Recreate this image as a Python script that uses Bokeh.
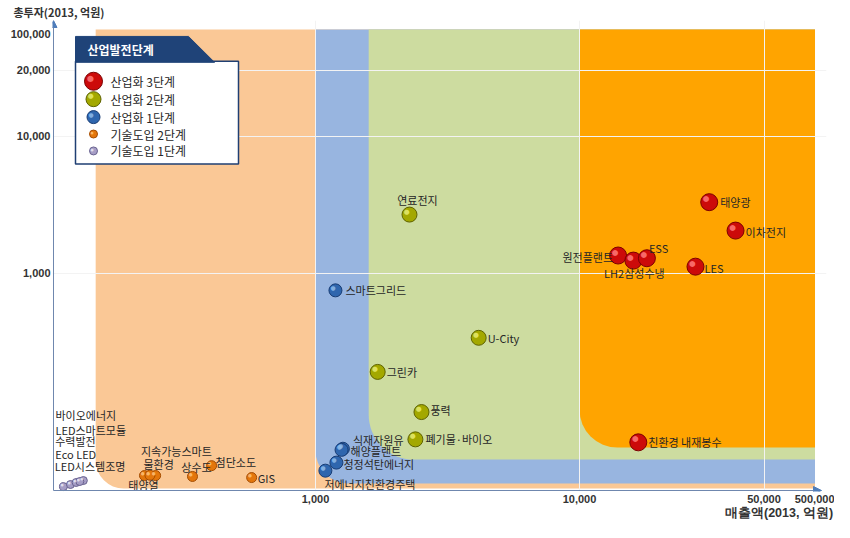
from bokeh.plotting import figure
from bokeh.models import (BoxAnnotation, FixedTicker, NumeralTickFormatter, Title, LogAxis,
                          Arrow, NormalHead, ColumnDataSource)
from bokeh.core.properties import value
from bokeh.embed import file_html
from bokeh.resources import INLINE

# ---------------- data : 매출액 (x), 총투자 (y), 2013, 억원 ----------------
s3_names = ["태양광", "이차전지", "원전플랜트", "LH2삼성수냉", "ESS", "LES", "친환경 내재봉수"]
s3_sales = [31000, 39000, 14000, 16000, 18000, 27500, 16700]
s3_invest = [3300, 2050, 1350, 1240, 1290, 1120, 59]

s2_names = ["연료전지", "U-City", "그린카", "풍력", "폐기물·바이오"]
s2_sales = [2270, 4150, 1720, 2520, 2390]
s2_invest = [2680, 340, 192, 98, 62]

s1_names = ["스마트그리드", "식재자원유", "해양플랜트", "청정석탄에너지", "저에너지친환경주택"]
s1_sales = [1190, 1270, 1255, 1200, 1090]
s1_invest = [753, 53, 52, 42, 36.7]

t2_names = ["태양열", "물환경", "지속가능스마트", "상수도", "첨단소도", "GIS"]
t2_sales = [225, 248, 236, 342, 404, 573]
t2_invest = [33.8, 33.8, 34.0, 33.3, 39.9, 32.7]

t1_names = ["바이오에너지", "LED스마트모듈", "수력발전", "Eco LED", "LED시스템조명"]
t1_sales = [111, 118, 124, 132, 128]
t1_invest = [28.1, 29.1, 30.1, 31.1, 30.6]

legend_labels = ["산업화 3단계", "산업화 2단계", "산업화 1단계", "기술도입 2단계", "기술도입 1단계"]

# stage thresholds of the background zones (sales, investment floor)
zone_left = [147, 1000, 1590, 10000]
zone_bottom = [27.2, 29.6, 44.2, 54.0]
zone_right = 78000
zone_top = 59600

x_ticks = [1000, 10000, 50000, 80000]
y_ticks = [1000, 10000, 30000, 55000]
x_title_tick = 57000

# ---------------- layout helpers (picture pixel -> axis value) ----------------
def xv(px):
    return 10 ** (3 + (px - 317) / 264.0)

def yv(py):
    return 10 ** (3 - (py - 273) / 138.0)

FL, FR, FT, FB = 54, 828, 19, 492   # frame edges in the picture (px)

KF = "Noto Sans CJK KR"
KFONT = value(KF)

p = figure(width=834, height=522, x_axis_type="log", y_axis_type="log",
           x_range=(xv(FL), xv(FR)), y_range=(yv(FB), yv(FT)),
           output_backend="svg", toolbar_location=None,
           min_border_left=52, min_border_right=8, min_border_top=20,
           min_border_bottom=29)
p.background_fill_color = "white"
p.border_fill_color = "white"
p.outline_line_color = None

# ---------------- background zones ----------------
zone_colors = ["#FAC896", "#98B5E0", "#CDDCA0", "#FFA400"]
zone_radius = [28, 33, 45, 38]
for zl, zb, zc, zr in zip(zone_left, zone_bottom, zone_colors, zone_radius):
    p.add_layout(BoxAnnotation(left=zl, right=zone_right, bottom=zb, top=zone_top,
                               fill_color=zc, fill_alpha=1.0, line_color=None,
                               border_radius=dict(top_left=0, top_right=0,
                                                  bottom_right=0, bottom_left=zr),
                               level="image"))

# ---------------- axes ----------------
p.xaxis.ticker = FixedTicker(ticks=x_ticks)
p.yaxis.ticker = FixedTicker(ticks=y_ticks)
p.xaxis.formatter = NumeralTickFormatter(format="0,0")
p.yaxis.formatter = NumeralTickFormatter(format="0,0")
p.xaxis.major_label_overrides = {80000: "500,000"}
p.yaxis.major_label_overrides = {30000: "20,000", 55000: "100,000"}
for ax in (p.xaxis, p.yaxis):
    ax.axis_line_color = None
    ax.major_tick_line_color = None
    ax.minor_tick_line_color = None
    ax.major_tick_out = 0
    ax.major_tick_in = 0
    ax.minor_tick_out = 0
    ax.minor_tick_in = 0
    ax.major_label_text_font = "Liberation Sans"
    ax.major_label_text_font_style = "bold"
    ax.major_label_text_font_size = "11px"
    ax.major_label_text_color = "#333333"
p.yaxis.major_label_standoff = 2
p.xaxis.major_label_standoff = 3

# x-axis title carried by a second bottom axis (right-hand placement as in the original)
xt = LogAxis(ticker=FixedTicker(ticks=[x_title_tick]),
             major_label_overrides={x_title_tick: "매출액(2013, 억원)"},
             axis_line_color=None, major_tick_line_color=None, minor_tick_line_color=None,
             major_tick_out=0, major_tick_in=0, minor_tick_out=0, minor_tick_in=0,
             major_label_standoff=0, major_label_text_font="Liberation Sans",
             major_label_text_font_size="12.5px", major_label_text_font_style="bold",
             major_label_text_color="#333333")
p.add_layout(xt, "below")

p.add_layout(Title(text="총투자(2013, 억원)", align="left", offset=-39, standoff=1,
                   text_font=KF, text_font_size="11px", text_font_style="bold",
                   text_color="#333333"), "above")

p.xgrid.ticker = FixedTicker(ticks=[1000, 10000, 50000])
p.ygrid.ticker = FixedTicker(ticks=[1000, 10000, 30000])
p.grid.grid_line_color = "#F3F3F3"
p.grid.grid_line_width = 1

axis_col = "#6F87AE"
p.add_layout(Arrow(x_start=xv(55), y_start=yv(491), x_end=xv(55), y_end=yv(19),
                   line_color=axis_col, line_width=1,
                   end=NormalHead(size=7, fill_color="#4F7DBA", line_color="#4F7DBA")))
p.add_layout(Arrow(x_start=xv(55), y_start=yv(491), x_end=xv(823), y_end=yv(491),
                   line_color=axis_col, line_width=1,
                   end=NormalHead(size=8, fill_color="#4F7DBA", line_color="#4F7DBA")))

# ---------------- points ----------------
def spheres(names, xs, ys, size, base, dark, light, dx, dy, align):
    src = ColumnDataSource(dict(x=xs, y=ys, name=names, dx=dx, dy=dy, align=align))
    p.scatter("x", "y", source=src, size=size, fill_color=base, line_color=dark, line_width=1)
    p.text("x", "y", text=value("●"), source=src, text_color=light, text_alpha=0.85,
           text_font=value("DejaVu Sans"), text_font_size=f"{size * 0.45:.1f}px",
           x_offset=-size * 0.18, y_offset=-size * 0.2,
           text_align="center", text_baseline="middle")
    p.text("x", "y", text="name", source=src, x_offset="dx", y_offset="dy",
           text_align="align", text_baseline="middle",
           text_font=KFONT, text_font_size="11px", text_color="#262626")

spheres(t1_names, t1_sales, t1_invest, 8, "#A69EC6", "#6A6390", "#ECEAF6",
        [-8, -15, -21, -28, -25], [-72, -55, -41, -27, -16], ["left"] * 5)
spheres(t2_names, t2_sales, t2_invest, 10, "#E3760C", "#A44C00", "#FFC27A",
        [-1, 3, -9, 4, 4, 6], [9, -12, -24, -9, -4, 0],
        ["center", "center", "left", "center", "left", "left"])
spheres(s1_names, s1_sales, s1_invest, 13, "#2F66AE", "#183C74", "#8FBCEB",
        [10, 10, 9, 7, -1], [0, -9, 1, 1, 13], ["left"] * 5)
spheres(s2_names, s2_sales, s2_invest, 15, "#A3A800", "#5E6200", "#E8EC70",
        [8, 9, 9, 9, 10], [-15, 0, 0, -2, 0],
        ["center", "left", "left", "left", "left"])
spheres(s3_names, s3_sales, s3_invest, 17, "#CC0A0A", "#7A0000", "#FF7A7A",
        [11, 10, -5, 1, 2, 9, 10], [0, 1, 1, 12, -10, 1, 0],
        ["left", "left", "right", "center", "left", "left", "left"])

# ---------------- legend panel ----------------
p.quad(left=[xv(77)], right=[xv(240)], top=[yv(60)], bottom=[yv(163)],
       fill_color="white", line_color="#1F3F73", line_width=1.5)
p.patch([xv(77), xv(190), xv(216), xv(77)], [yv(35), yv(35), yv(61), yv(61)],
        fill_color="#1F4378", line_color="#1F4378")
p.text(x=[xv(89)], y=[yv(48)], text=["산업발전단계"], text_font=KFONT,
       text_font_size="12px", text_font_style="bold", text_color="white",
       text_baseline="middle")

leg_y = [yv(80), yv(98), yv(116), yv(133), yv(150)]
leg_sizes = [18, 15, 13, 8, 8]
leg_base = ["#CC0A0A", "#A3A800", "#2F66AE", "#E3760C", "#A69EC6"]
leg_dark = ["#7A0000", "#5E6200", "#183C74", "#A44C00", "#6A6390"]
leg_light = ["#FF7A7A", "#E8EC70", "#8FBCEB", "#FFC27A", "#ECEAF6"]
leg_src = ColumnDataSource(dict(x=[xv(95)] * 5, y=leg_y, size=leg_sizes, base=leg_base,
                                dark=leg_dark, light=leg_light, label=legend_labels,
                                hs=[f"{s * 0.45:.1f}px" for s in leg_sizes],
                                ho=[-s * 0.18 for s in leg_sizes]))
p.scatter("x", "y", source=leg_src, size="size", fill_color="base", line_color="dark")
p.text("x", "y", text=value("●"), source=leg_src, text_color="light", text_alpha=0.85,
       text_font=value("DejaVu Sans"), text_font_size="hs", x_offset="ho", y_offset="ho",
       text_align="center", text_baseline="middle")
p.text(x=[xv(112)] * 5, y=leg_y, text=legend_labels, text_font=KFONT,
       text_font_size="12px", text_color="#262626", text_baseline="middle")

open("out.html", "w").write(file_html(p, INLINE))
